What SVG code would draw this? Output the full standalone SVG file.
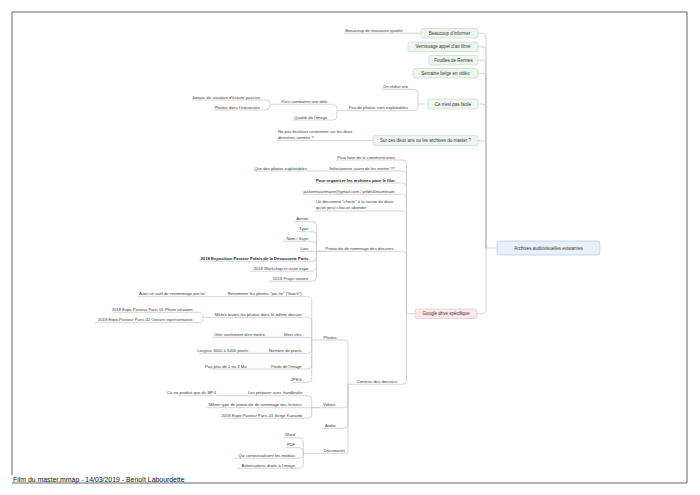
<svg xmlns="http://www.w3.org/2000/svg" width="700" height="495" viewBox="0 0 700 495">
<style>
.t{font-family:"Liberation Sans",Arial,sans-serif;font-size:4.2px;fill:#3a3a3a}
.e{text-anchor:end}
.b{font-weight:bold;fill:#222}
.bx{font-family:"Liberation Sans",Arial,sans-serif;font-size:4.5px;fill:#333;text-anchor:middle}
.u{stroke:#c4c4c4;stroke-width:0.7;fill:none}
.c{stroke:#c4c4c4;stroke-width:0.7;fill:none}
.g{fill:#eef5ef;stroke:#bcd6c0;stroke-width:0.6}
.p{fill:#fbe9ea;stroke:#e6bfc2;stroke-width:0.6}
.m{fill:#eaf0f8;stroke:#b6c6da;stroke-width:0.7}
.fr{stroke:#555;stroke-width:0.9;fill:none}
</style>
<rect width="700" height="495" fill="#fff"/>
<g id="frame">
<path class="fr" d="M12,475 V12 H687 V483 H12"/>
<text x="13" y="482" font-family="Liberation Sans,Arial,sans-serif" font-size="6.9" fill="#111">Film du master.mmap - 14/03/2019 - Benoît Labourdette</text>
</g>
<g id="connectors">
<path class="c" d="M478,33.2 H482 Q486,33.2 486,37.2 V248 H497"/>
<path class="c" d="M478,46.7 H482 Q486,46.7 486,50.7 V248"/>
<path class="c" d="M478,60.2 H482 Q486,60.2 486,64.2 V248"/>
<path class="c" d="M478,73.2 H482 Q486,73.2 486,77.2 V248"/>
<path class="c" d="M478,104 H482 Q486,104 486,108 V248"/>
<path class="c" d="M478,140.5 H482 Q486,140.5 486,144.5 V248"/>
<path class="c" d="M477,313.7 H482 Q486,313.7 486,309.7 V248"/>
<path class="c" d="M404,33.2 H421"/>
<path class="c" d="M409,89.3 H414 Q418,89.3 418,93.3 V104 H428"/>
<path class="c" d="M409,110.7 H414 Q418,110.7 418,106.7 V104"/>
<path class="c" d="M328,104.3 H333 Q337,104.3 337,108.3 V110.7 H345"/>
<path class="c" d="M328,120 H333 Q337,120 337,116 V110.7"/>
<path class="c" d="M261,100 H266 Q270,100 270,104 V104.3 H278"/>
<path class="c" d="M261,110 H266 Q270,110 270,106 V104.3"/>
<path class="c" d="M352,140.5 H373"/>
<path class="c" d="M396,160 H402.5 Q406.5,160 406.5,164 V313.7 H415"/>
<path class="c" d="M396,171 H402.5 Q406.5,171 406.5,175 V313.7"/>
<path class="c" d="M396,183 H402.5 Q406.5,183 406.5,187 V313.7"/>
<path class="c" d="M396,194.3 H402.5 Q406.5,194.3 406.5,198.3 V313.7"/>
<path class="c" d="M396,211 H402.5 Q406.5,211 406.5,215 V313.7"/>
<path class="c" d="M396,251.3 H402.5 Q406.5,251.3 406.5,255.3 V313.7"/>
<path class="c" d="M398,384.3 H402.5 Q406.5,384.3 406.5,380.3 V313.7"/>
<path class="c" d="M308,171 H327"/>
<path class="c" d="M310,221.7 H312.5 Q316.5,221.7 316.5,225.7 V251.3 H326"/>
<path class="c" d="M310,231.7 H312.5 Q316.5,231.7 316.5,235.7 V251.3"/>
<path class="c" d="M310,241.2 H312.5 Q316.5,241.2 316.5,245.2 V251.3"/>
<path class="c" d="M310,251.3 H326"/>
<path class="c" d="M310,261.2 H312.5 Q316.5,261.2 316.5,257.2 V251.3"/>
<path class="c" d="M310,271.2 H312.5 Q316.5,271.2 316.5,267.2 V251.3"/>
<path class="c" d="M310,281.2 H312.5 Q316.5,281.2 316.5,277.2 V251.3"/>
<path class="c" d="M338,340 H344 Q348,340 348,344 V384.3 H352"/>
<path class="c" d="M337,407.7 H344 Q348,407.7 348,403.7 V384.3"/>
<path class="c" d="M337,428.3 H344 Q348,428.3 348,424.3 V384.3"/>
<path class="c" d="M346,453.3 Q348,453.3 348,451.3 V384.3"/>
<path class="c" d="M303,296.7 H307.7 Q311.7,296.7 311.7,300.7 V340 H320"/>
<path class="c" d="M303,317.3 H307.7 Q311.7,317.3 311.7,321.3 V340"/>
<path class="c" d="M303,337.3 H309 Q311.7,337.3 311.7,340"/>
<path class="c" d="M303,353.3 H307.7 Q311.7,353.3 311.7,349.3 V340"/>
<path class="c" d="M303,369 H307.7 Q311.7,369 311.7,365 V340"/>
<path class="c" d="M303,382.3 H307.7 Q311.7,382.3 311.7,378.3 V340"/>
<path class="c" d="M206,296.7 H225"/>
<path class="c" d="M194,312.3 H199.3 Q203.3,312.3 203.3,316.3 V317.3 H212"/>
<path class="c" d="M194,322.7 H199.3 Q203.3,322.7 203.3,318.7 V317.3"/>
<path class="c" d="M266,337.3 H284"/>
<path class="c" d="M249,353.3 H269"/>
<path class="c" d="M248,369 H272"/>
<path class="c" d="M304,395.7 H307.7 Q311.7,395.7 311.7,399.7 V407.7 H320"/>
<path class="c" d="M304,407.7 H320"/>
<path class="c" d="M304,418.3 H307.7 Q311.7,418.3 311.7,414.3 V407.7"/>
<path class="c" d="M217,395.7 H248"/>
<path class="c" d="M296,437.7 H299.3 Q303.3,437.7 303.3,441.7 V453.3 H323"/>
<path class="c" d="M296,447.7 H299.3 Q303.3,447.7 303.3,451.7 V453.3"/>
<path class="c" d="M296,458.3 H299.3 Q303.3,458.3 303.3,454.3 V453.3"/>
<path class="c" d="M296,468.3 H299.3 Q303.3,468.3 303.3,464.3 V453.3"/>
</g>
<g id="central"><rect class="m" x="497" y="241" width="103" height="14" rx="3"/><text class="bx" x="548.5" y="250" font-size="5.5">Archives audiovisuelles existantes</text></g>
<g id="n-beaucoup-informer"><rect class="g" x="421" y="28.5" width="57" height="9.5" rx="2"/><text class="bx" x="449.5" y="34.8">Beaucoup d'informer</text></g>
<g id="n-vernissage"><rect class="g" x="408" y="42" width="70" height="9.5" rx="2"/><text class="bx" x="443" y="48.3">Vernissage appel d'air filmé</text></g>
<g id="n-fouilles"><rect class="g" x="429" y="55.5" width="49" height="9.5" rx="2"/><text class="bx" x="453.5" y="61.8">Fouilles de Rennes</text></g>
<g id="n-semaine"><rect class="g" x="413" y="68.5" width="65" height="9.5" rx="2"/><text class="bx" x="445.5" y="74.8">Semaine belge en vidéo</text></g>
<g id="n-pas-facile"><rect class="g" x="428" y="99" width="50" height="10" rx="2"/><text class="bx" x="453" y="105.6">Ce n'est pas facile</text></g>
<g id="n-deux-ans"><rect class="g" x="373" y="135.5" width="105" height="10" rx="2"/><text class="bx" x="425.5" y="142.1">Sur ces deux ans ou les archives du master ?</text></g>
<g id="n-google"><rect class="p" x="415" y="309" width="62" height="9.5" rx="2"/><text class="bx" x="446" y="315.3">Google drive spécifique</text></g>

<g id="n-mauvaise"><path class="u" d="M344,33.2 H404"/><text class="t e" x="402.5" y="31.6">Beaucoup de mauvaise qualité</text></g>
<g id="n-reduit"><path class="u" d="M382,89.3 H409"/><text class="t e" x="408" y="87.8">On réduit vite</text></g>
<g id="n-peu-photos"><path class="u" d="M345,110.7 H409"/><text class="t e" x="408" y="109.2">Peu de photos sont exploitables</text></g>
<g id="n-combattre"><path class="u" d="M278,104.3 H328"/><text class="t e" x="327.3" y="102.8">Pour combattre une idée</text></g>
<g id="n-qualite"><path class="u" d="M292,120 H328"/><text class="t e" x="327.3" y="118.5">Qualité de l'image</text></g>
<g id="n-jamais"><path class="u" d="M192,100 H261"/><text class="t e" x="260" y="98.5">Jamais de situation d'écoute passive</text></g>
<g id="n-interaction"><path class="u" d="M214,110 H261"/><text class="t e" x="260" y="108.5">Photos dans l'interaction</text></g>
<g id="n-focaliser"><path class="u" d="M277,140.5 H352"/><text class="t" x="278" y="133.3">Ne pas focaliser seulement sur les deux</text><text class="t" x="278" y="139">dernières années ?</text></g>

<g id="n-communication"><path class="u" d="M336,160 H396"/><text class="t e" x="395" y="158.5">Pour faire de la communication</text></g>
<g id="n-selectionner"><path class="u" d="M327,171 H396"/><text class="t e" x="395" y="169.5">Sélectionner avant de les mettre !!!!</text></g>
<g id="n-que-des-photos"><path class="u" d="M253,171 H308"/><text class="t e" x="307" y="169.5">Que des photos exploitables</text></g>
<g id="n-organiser"><path class="u" d="M317,183 H396"/><text class="t e b" x="394.5" y="181.5">Pour organiser les archives pour le film</text></g>
<g id="n-email"><path class="u" d="M302,194.3 H396"/><text class="t e" x="394.5" y="192.8">jackiemuselmann@gmail.com / prfdr00teamteam</text></g>
<g id="n-charte"><path class="u" d="M315,211 H396"/><text class="t" x="316" y="203.4">Un document "charte" à la racine du drive</text><text class="t" x="316" y="209.3">qu'on peut chacun abonder</text></g>
<g id="n-protocole"><path class="u" d="M326,251.3 H396"/><text class="t e" x="393.5" y="249.8">Protocole de nommage des dossiers</text></g>
<g id="n-annee"><path class="u" d="M294,221.7 H310"/><text class="t e" x="308.3" y="220.2">Année</text></g>
<g id="n-type"><path class="u" d="M297,231.7 H310"/><text class="t e" x="308.3" y="230.2">Type</text></g>
<g id="n-nom"><path class="u" d="M283,241.2 H310"/><text class="t e" x="308.3" y="239.7">Nom / Sujet</text></g>
<g id="n-lieu"><path class="u" d="M299,251.3 H310"/><text class="t e" x="308.3" y="249.8">Lieu</text></g>
<g id="n-expo-2018"><path class="u" d="M199,261.2 H310"/><text class="t e b" x="308.3" y="259.7">2018 Exposition Pasteur Palais de la Découverte Paris</text></g>
<g id="n-workshop"><path class="u" d="M250,271.2 H310"/><text class="t e" x="308.3" y="269.7">2018 Workshop et visite expo</text></g>
<g id="n-sonore"><path class="u" d="M269,281.2 H310"/><text class="t e" x="308.3" y="279.7">2018 Projet sonore</text></g>

<g id="n-contenu"><path class="u" d="M352,384.3 H398"/><text class="t e" x="397" y="382.8">Contenu des dossiers</text></g>
<g id="n-photos"><path class="u" d="M320,340 H338"/><text class="t e" x="336.5" y="338.5">Photos</text></g>
<g id="n-renommer"><path class="u" d="M225,296.7 H303"/><text class="t e" x="301.7" y="295.2">Renommer les photos "par lot" ("batch")</text></g>
<g id="n-outil"><path class="u" d="M137,296.7 H206"/><text class="t e" x="205" y="295.2">Avec un outil de renommage par lot</text></g>
<g id="n-mettre"><path class="u" d="M212,317.3 H303"/><text class="t e" x="301.7" y="315.8">Mettre toutes les photos dans le même dossier</text></g>
<g id="n-photo-situation"><path class="u" d="M113,312.3 H194"/><text class="t e" x="192.7" y="310.8">2018 Expo Pasteur Paris 01 Photo situation</text></g>
<g id="n-oeuvre"><path class="u" d="M95,322.7 H194"/><text class="t e" x="192.7" y="321.2">2018 Expo Pasteur Paris 02 Oeuvre représentative</text></g>
<g id="n-mots-cles"><path class="u" d="M284,337.3 H303"/><text class="t e" x="301.7" y="335.8">Mots clés</text></g>
<g id="n-utile"><path class="u" d="M212,337.3 H266"/><text class="t e" x="265" y="335.8">Utile seulement d'en mettre</text></g>
<g id="n-pixels"><path class="u" d="M269,353.3 H303"/><text class="t e" x="301.7" y="351.8">Nombre de pixels</text></g>
<g id="n-largeur"><path class="u" d="M199,353.3 H249"/><text class="t e" x="248.3" y="351.8">Largeur 3000 à 5000 pixels</text></g>
<g id="n-poids"><path class="u" d="M272,369 H303"/><text class="t e" x="301.7" y="367.5">Poids de l'image</text></g>
<g id="n-pas-plus"><path class="u" d="M209,369 H248"/><text class="t e" x="246.7" y="367.5">Pas plus de 2 ou 3 Mo</text></g>
<g id="n-jpeg"><path class="u" d="M293,382.3 H303"/><text class="t e" x="301.7" y="380.8">JPEG</text></g>
<g id="n-videos"><path class="u" d="M320,407.7 H337"/><text class="t e" x="335.7" y="406.2">Vidéos</text></g>
<g id="n-handbrake"><path class="u" d="M248,395.7 H304"/><text class="t e" x="302.7" y="394.2">Les préparer avec handbrake</text></g>
<g id="n-mp4"><path class="u" d="M178,395.7 H217"/><text class="t e" x="216" y="394.2">Ca ne produit que du MP4</text></g>
<g id="n-meme-type"><path class="u" d="M207,407.7 H304"/><text class="t e" x="301.5" y="406.2">Même type de protocole de nommage des fichiers</text></g>
<g id="n-serge"><path class="u" d="M224,418.3 H304"/><text class="t e" x="302.7" y="416.8">2018 Expo Pasteur Paris 01 Serge Kanarde</text></g>
<g id="n-audio"><path class="u" d="M322,428.3 H337"/><text class="t e" x="335.7" y="426.8">Audio</text></g>
<g id="n-documents"><path class="u" d="M323,453.3 H346"/><text class="t e" x="345" y="451.8">Documents</text></g>
<g id="n-word"><path class="u" d="M283,437.7 H296"/><text class="t e" x="295" y="436.2">Word</text></g>
<g id="n-pdf"><path class="u" d="M286,447.7 H296"/><text class="t e" x="295" y="446.2">PDF</text></g>
<g id="n-contextualisent"><path class="u" d="M235,458.3 H296"/><text class="t e" x="295" y="456.8">Qui contextualisent les médias</text></g>
<g id="n-autorisations"><path class="u" d="M237,468.3 H296"/><text class="t e" x="295" y="466.8">Autorisations droits à l'image</text></g>
</svg>
